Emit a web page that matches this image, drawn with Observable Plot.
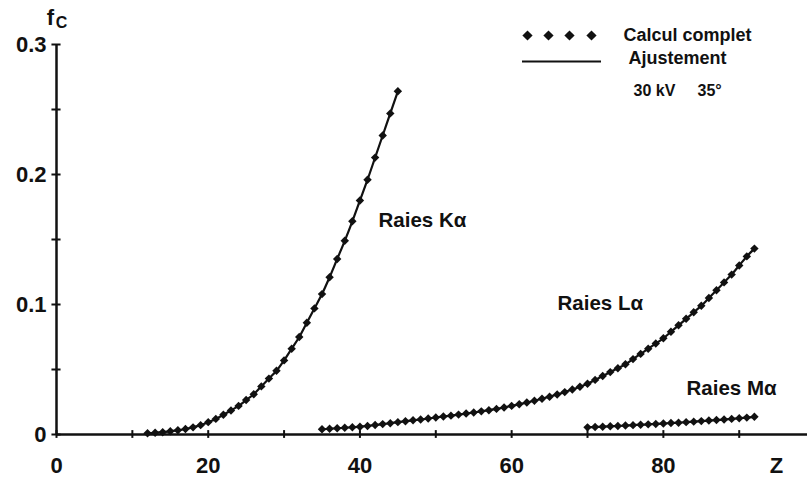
<!DOCTYPE html>
<html><head><meta charset="utf-8">
<script src="https://cdn.jsdelivr.net/npm/d3@7"></script>
<script src="https://cdn.jsdelivr.net/npm/@observablehq/plot@0.6"></script>
<style>body{margin:0;background:#fff}</style>
</head><body><div id="chart"></div>
<script>
// ---- data ----
const zK = [12,13,14,15,16,17,18,19,20,21,22,23,24,25,26,27,28,29,30,31,32,33,34,35,36,37,38,39,40,41,42,43,44,45];
const fK = [0.0010,0.0013,0.0018,0.0025,0.0032,0.0042,0.0055,0.0072,0.0095,0.0120,0.0152,0.0185,0.0220,0.0265,0.0310,0.0370,0.0430,0.0490,0.0570,0.0660,0.0750,0.0860,0.0970,0.1080,0.1210,0.1350,0.1490,0.1640,0.1800,0.1960,0.2130,0.2300,0.2470,0.2640];
const zL = [35,36,37,38,39,40,41,42,43,44,45,46,47,48,49,50,51,52,53,54,55,56,57,58,59,60,61,62,63,64,65,66,67,68,69,70,71,72,73,74,75,76,77,78,79,80,81,82,83,84,85,86,87,88,89,90,91,92];
const fL = [0.0040,0.0044,0.0048,0.0052,0.0056,0.0060,0.0066,0.0073,0.0080,0.0087,0.0095,0.0102,0.0109,0.0116,0.0123,0.0131,0.0138,0.0145,0.0153,0.0161,0.0169,0.0178,0.0187,0.0197,0.0208,0.0220,0.0233,0.0246,0.0260,0.0275,0.0291,0.0308,0.0326,0.0346,0.0367,0.0390,0.0420,0.0450,0.0480,0.0510,0.0540,0.0580,0.0620,0.0660,0.0700,0.0740,0.0790,0.0840,0.0890,0.0940,0.0990,0.1050,0.1110,0.1170,0.1230,0.1300,0.1370,0.1430];
const zM = [70,71,72,73,74,75,76,77,78,79,80,81,82,83,84,85,86,87,88,89,90,91,92];
const fM = [0.0055,0.0058,0.0060,0.0063,0.0066,0.0069,0.0072,0.0075,0.0078,0.0081,0.0084,0.0088,0.0091,0.0095,0.0099,0.0103,0.0107,0.0111,0.0115,0.0120,0.0125,0.0130,0.0136];
const seriesLabels = ["Raies K\u03b1", "Raies L\u03b1", "Raies M\u03b1"];
const xTicks = [0,10,20,30,40,50,60,70,80,90];
const xTickLabels = [0,20,40,60,80];
const yTicks = [0,0.05,0.1,0.15,0.2,0.25,0.3];
const yTickLabels = [0,0.1,0.2,0.3];
const legendLabels = ["Calcul complet", "Ajustement", "30 kV\u00a0\u00a0\u00a0\u00a0\u00a035\u00b0"];
const xTitle = "Z";
const yTitle = "f";
const yTitleSub = "C";

// ---- build tables ----
const toRows = (zs, fs) => zs.map((z, i) => ({z, f: fs[i]}));
const K = toRows(zK, fK), L = toRows(zL, fL), M = toRows(zM, fM);

// ---- layout (pixel -> data helpers for annotation placement) ----
const W = 807, H = 478, mL = 56, mR = 0, mT = 44, mB = 44;
const xMax = 99, yMax = 0.3;
const px2x = p => (p - mL) / (W - mL - mR) * xMax;
const px2y = p => (H - mB - p) / (H - mT - mB) * yMax;

const FONT = "'Liberation Sans', Arial, Helvetica, sans-serif";
const ink = "#111";

const labelPos = [[378, 220], [557, 303], [686, 388]];
const legendDiamondsPx = [527, 548, 569, 591];

const chart = Plot.plot({
  width: W, height: H,
  marginLeft: mL, marginRight: mR, marginTop: mT, marginBottom: mB,
  x: {domain: [0, xMax], axis: null},
  y: {domain: [0, yMax], axis: null},
  style: {fontFamily: FONT, background: "#fff"},
  marks: [
    // axes lines
    Plot.ruleY([0], {stroke: ink, strokeWidth: 2.5}),
    Plot.ruleX([0], {y1: 0, y2: yMax, stroke: ink, strokeWidth: 2.5}),
    // tick marks crossing the axes
    Plot.ruleX(xTicks, {x: d => d, y1: -0.003, y2: 0.003, stroke: ink, strokeWidth: 2}),
    Plot.ruleY(yTicks, {y: d => d, x1: -0.6, x2: 0.6, stroke: ink, strokeWidth: 2}),
    // tick labels
    Plot.text(xTickLabels, {x: d => d, y: 0, dy: 31, text: d => String(d), fontSize: 22, fontWeight: "bold", fill: ink}),
    Plot.text(yTickLabels, {x: 0, y: d => d, dx: -10, textAnchor: "end", text: d => String(d), fontSize: 22, fontWeight: "bold", fill: ink}),
    Plot.text([xTitle], {x: px2x(776), y: 0, dy: 31, text: d => d, fontSize: 22, fontWeight: "bold", fill: ink}),
    Plot.text([yTitle], {x: px2x(50), y: px2y(17), text: d => d, fontSize: 22, fontWeight: "bold", fill: ink}),
    Plot.text([yTitleSub], {x: px2x(61), y: px2y(22), text: d => d, fontSize: 16, fontWeight: "bold", fill: ink}),
    // fitted lines
    Plot.line(K, {x: "z", y: "f", stroke: ink, strokeWidth: 2.2, curve: "catmull-rom"}),
    Plot.line(L, {x: "z", y: "f", stroke: ink, strokeWidth: 2.2, curve: "catmull-rom"}),
    Plot.line(M, {x: "z", y: "f", stroke: ink, strokeWidth: 2.2, curve: "catmull-rom"}),
    // computed points
    Plot.dot(K, {x: "z", y: "f", symbol: "diamond2", r: 3.8, fill: ink}),
    Plot.dot(L, {x: "z", y: "f", symbol: "diamond2", r: 3.8, fill: ink}),
    Plot.dot(M, {x: "z", y: "f", symbol: "diamond2", r: 3.8, fill: ink}),
    // series labels
    Plot.text(seriesLabels, {x: (d, i) => px2x(labelPos[i][0]), y: (d, i) => px2y(labelPos[i][1]), text: d => d, textAnchor: "start", fontSize: 20.5, fontWeight: "bold", fill: ink}),
    // legend
    Plot.dot(legendDiamondsPx, {x: d => px2x(d), y: px2y(35), symbol: "diamond2", r: 4.6, fill: ink}),
    Plot.ruleY([px2y(61)], {x1: px2x(522), x2: px2x(601), stroke: ink, strokeWidth: 2}),
    Plot.text([legendLabels[0]], {x: px2x(623), y: px2y(35), text: d => d, textAnchor: "start", fontSize: 18, fontWeight: "bold", fill: ink}),
    Plot.text([legendLabels[1]], {x: px2x(628), y: px2y(58), text: d => d, textAnchor: "start", fontSize: 18, fontWeight: "bold", fill: ink}),
    Plot.text([legendLabels[2]], {x: px2x(633), y: px2y(90), text: d => d, textAnchor: "start", fontSize: 16, fontWeight: "bold", fill: ink})
  ]
});
document.getElementById("chart").appendChild(chart);
</script>
</body></html>
